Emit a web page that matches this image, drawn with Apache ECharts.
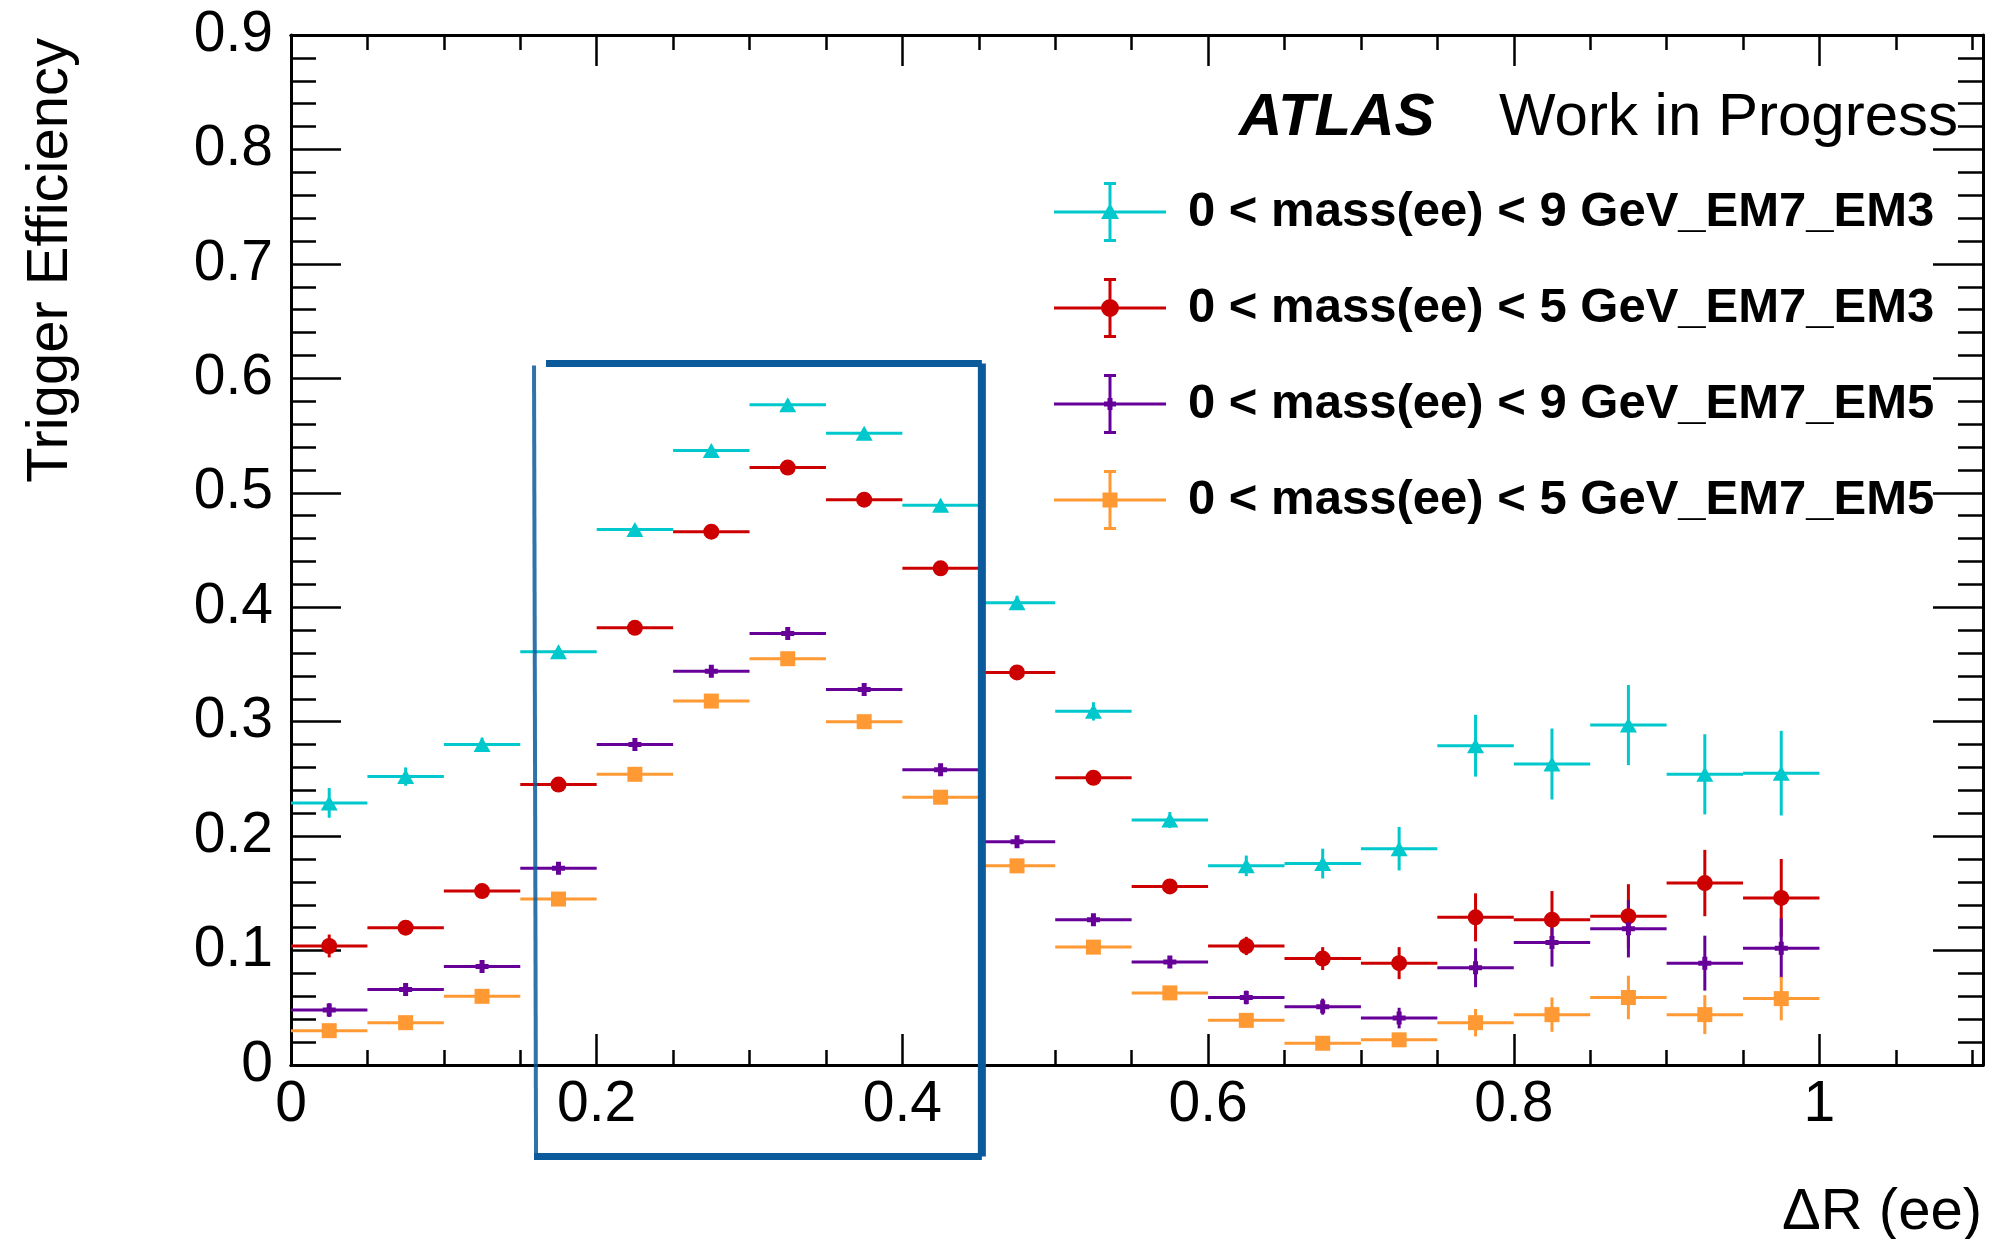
<!DOCTYPE html>
<html>
<head>
<meta charset="utf-8">
<script src="https://cdn.jsdelivr.net/npm/echarts@6/dist/echarts.min.js"></script>
<style>
html, body { margin: 0; padding: 0; background: #fff; }
#container { width: 1992px; height: 1239px; }
</style>
</head>
<body>
<div id="container"></div>
<script>
// bin centres of Delta R (ee), bins are 0.05 wide
var binCenters = [0.025, 0.075, 0.125, 0.175, 0.225, 0.275, 0.325, 0.375, 0.425, 0.475,
                  0.525, 0.575, 0.625, 0.675, 0.725, 0.775, 0.825, 0.875, 0.925, 0.975];
var binHalfWidth = 0.025;

var names = [
    '0 < mass(ee) < 9 GeV_EM7_EM3',
    '0 < mass(ee) < 5 GeV_EM7_EM3',
    '0 < mass(ee) < 9 GeV_EM7_EM5',
    '0 < mass(ee) < 5 GeV_EM7_EM5'
];

var eff9EM3 = [0.229, 0.252, 0.280, 0.361, 0.468, 0.537, 0.577, 0.552, 0.489, 0.404,
               0.309, 0.214, 0.174, 0.176, 0.189, 0.279, 0.263, 0.297, 0.254, 0.255];
var err9EM3 = [0.013, 0.008, 0.006, 0.005, 0.004, 0.004, 0.004, 0.004, 0.005, 0.006,
               0.008, 0.007, 0.009, 0.013, 0.019, 0.027, 0.031, 0.035, 0.035, 0.037];

var eff5EM3 = [0.104, 0.120, 0.152, 0.245, 0.382, 0.466, 0.522, 0.494, 0.434, 0.343,
               0.251, 0.156, 0.104, 0.093, 0.089, 0.129, 0.127, 0.130, 0.159, 0.146];
var err5EM3 = [0.010, 0.006, 0.005, 0.004, 0.004, 0.004, 0.004, 0.004, 0.004, 0.005,
               0.005, 0.006, 0.008, 0.010, 0.014, 0.021, 0.025, 0.028, 0.029, 0.034];

var eff9EM5 = [0.048, 0.066, 0.086, 0.172, 0.280, 0.344, 0.377, 0.328, 0.258, 0.195,
               0.127, 0.090, 0.059, 0.051, 0.041, 0.085, 0.107, 0.119, 0.089, 0.102];
var err9EM5 = [0.006, 0.005, 0.004, 0.004, 0.004, 0.004, 0.004, 0.004, 0.004, 0.004,
               0.004, 0.005, 0.006, 0.007, 0.009, 0.017, 0.021, 0.025, 0.024, 0.026];

var eff5EM5 = [0.030, 0.037, 0.060, 0.145, 0.254, 0.318, 0.355, 0.300, 0.234, 0.174,
               0.103, 0.063, 0.039, 0.019, 0.022, 0.037, 0.044, 0.059, 0.044, 0.058];
var err5EM5 = [0.004, 0.003, 0.003, 0.003, 0.003, 0.003, 0.003, 0.003, 0.003, 0.003,
               0.003, 0.004, 0.004, 0.004, 0.005, 0.012, 0.015, 0.019, 0.017, 0.019];

// hand drawn highlight box (data coords of its corners)
var boxX = [0.159, 0.452];
var boxY = [-0.080, 0.613];

var colors = ['#00c8cc', '#cc0000', '#660099', '#ff9933'];
var FONT = '"Liberation Sans", Arial, Helvetica, sans-serif';

// plot markers
var symbols = ['triangle', 'circle', 'path://M0,4H13V9H0Z M4,0H9V13H4Z', 'rect'];
var symbolSizes = [[17, 15], 16, 13, 15];

// legend icons: horizontal bin bar + vertical error bar with caps + marker
var bars = 'M0,28.5H112V31.5H0Z M54.5,0H57.5V60H54.5Z M50,0H62V3H50Z M50,57H62V60H50Z ';
var legendIcons = [
    'path://' + bars + 'M56,21L65,37H47Z',
    'path://' + bars + 'M47,30A9,9 0 1,1 65,30A9,9 0 1,1 47,30Z',
    'path://' + bars + 'M50,27.5H62V32.5H50Z M53.5,24H58.5V36H53.5Z',
    'path://' + bars + 'M48.5,22.5H63.5V37.5H48.5Z'
];

var dom = document.getElementById('container');
var myChart = echarts.init(dom);

function errRender(params, api) {
    var x = api.value(0), y = api.value(1), ey = api.value(2);
    var l = api.coord([x - binHalfWidth, y]);
    var r = api.coord([x + binHalfWidth, y]);
    var t = api.coord([x, y + ey]);
    var b = api.coord([x, y - ey]);
    var st = { stroke: api.visual('color'), lineWidth: 3 };
    return {
        type: 'group',
        children: [
            { type: 'line', shape: { x1: l[0], y1: l[1], x2: r[0], y2: r[1] }, style: st },
            { type: 'line', shape: { x1: t[0], y1: t[1], x2: b[0], y2: b[1] }, style: st }
        ]
    };
}

var effs = [eff9EM3, eff5EM3, eff9EM5, eff5EM5];
var errs = [err9EM3, err5EM3, err9EM5, err5EM5];
var series = [];
for (var s = 0; s < 4; s++) {
    var errData = [], ptData = [];
    for (var i = 0; i < binCenters.length; i++) {
        errData.push([binCenters[i], effs[s][i], errs[s][i]]);
        ptData.push([binCenters[i], effs[s][i]]);
    }
    series.push({
        name: names[s],
        type: 'custom',
        renderItem: errRender,
        itemStyle: { color: colors[s] },
        encode: { x: 0, y: 1 },
        data: errData,
        z: 2
    });
    series.push({
        name: names[s],
        type: 'scatter',
        symbol: symbols[s],
        symbolSize: symbolSizes[s],
        itemStyle: { color: colors[s], opacity: 1 },
        data: ptData,
        z: 3
    });
}

var axisLine = { show: true, onZero: false, lineStyle: { color: '#000', width: 3 } };
var tickStyle = { color: '#000', width: 2.5 };
var labelStyle = { color: '#000', fontFamily: FONT, fontSize: 57 };

function xAxis(pos, interval, len, labels) {
    return {
        type: 'value', position: pos, min: 0, max: 1.107, interval: interval,
        axisLine: axisLine,
        axisTick: { show: true, inside: true, length: len, lineStyle: tickStyle },
        axisLabel: { show: labels, showMaxLabel: false, margin: 12, textStyle: labelStyle },
        splitLine: { show: false }
    };
}
function yAxis(pos, labels) {
    return {
        type: 'value', position: pos, min: 0, max: 0.9, interval: 0.1,
        axisLine: axisLine,
        axisTick: { show: true, inside: true, length: 50, lineStyle: tickStyle },
        minorTick: { show: true, splitNumber: 5, length: 25, lineStyle: tickStyle },
        axisLabel: { show: labels, margin: 18, textStyle: labelStyle },
        splitLine: { show: false },
        minorSplitLine: { show: false }
    };
}

option = {
    backgroundColor: '#fff',
    animation: false,
    grid: { left: 291, right: 9, top: 35, bottom: 174, containLabel: false },
    xAxis: [
        xAxis('bottom', 0.2, 31, true),
        xAxis('bottom', 0.05, 15, false),
        xAxis('top', 0.2, 31, false),
        xAxis('top', 0.05, 15, false)
    ],
    yAxis: [yAxis('left', true), yAxis('right', false)],
    legend: {
        orient: 'vertical',
        left: 1049,
        top: 177,
        itemWidth: 112,
        itemHeight: 60,
        itemGap: 36,
        selectedMode: false,
        data: names.map(function (n, k) { return { name: n, icon: legendIcons[k] }; }),
        textStyle: { color: '#000', fontFamily: FONT, fontSize: 49, fontWeight: 'bold', padding: [0, 0, 0, 17] }
    },
    series: series,
    graphic: [
        {
            id: 'atlas', type: 'text', left: 1239, top: 88,
            style: { text: 'ATLAS', fontFamily: FONT, fontSize: 60, fontWeight: 'bold', fontStyle: 'italic', fill: '#000' }
        },
        {
            id: 'wip', type: 'text', left: 1499, top: 88,
            style: { text: 'Work in Progress', fontFamily: FONT, fontSize: 60, fill: '#000' }
        },
        {
            id: 'ytitle', type: 'text', x: 51, y: 38, rotation: Math.PI / 2,
            style: { text: 'Trigger Efficiency', fontFamily: FONT, fontSize: 58, fill: '#000', align: 'right', verticalAlign: 'middle' }
        },
        {
            id: 'xtitle', type: 'text', x: 1982, y: 1213,
            style: { text: '\u0394R (ee)', fontFamily: FONT, fontSize: 58, fill: '#000', align: 'right', verticalAlign: 'middle' }
        }
    ]
};

if (option && typeof option === "object") {
    myChart.setOption(option, true);
}

// blue highlight box, placed through the axes
var p0 = myChart.convertToPixel({ xAxisIndex: 0, yAxisIndex: 0 }, [boxX[0], boxY[1]]);
var p1 = myChart.convertToPixel({ xAxisIndex: 0, yAxisIndex: 0 }, [boxX[1], boxY[0]]);
var boxColor = '#0b5a9c';
myChart.setOption({
    graphic: [
        { id: 'boxL', type: 'line', z: 10, shape: { x1: p0[0], y1: p0[1] + 2, x2: p0[0] + 2, y2: p1[1] }, style: { stroke: boxColor, lineWidth: 4, opacity: 0.85 } },
        { id: 'boxT', type: 'line', z: 10, shape: { x1: p0[0] + 12, y1: p0[1], x2: p1[0], y2: p0[1] }, style: { stroke: boxColor, lineWidth: 7 } },
        { id: 'boxR', type: 'line', z: 10, shape: { x1: p1[0], y1: p0[1], x2: p1[0], y2: p1[1] }, style: { stroke: boxColor, lineWidth: 8 } },
        { id: 'boxB', type: 'line', z: 10, shape: { x1: p0[0], y1: p1[1], x2: p1[0], y2: p1[1] }, style: { stroke: boxColor, lineWidth: 7 } }
    ]
});
</script>
</body>
</html>
